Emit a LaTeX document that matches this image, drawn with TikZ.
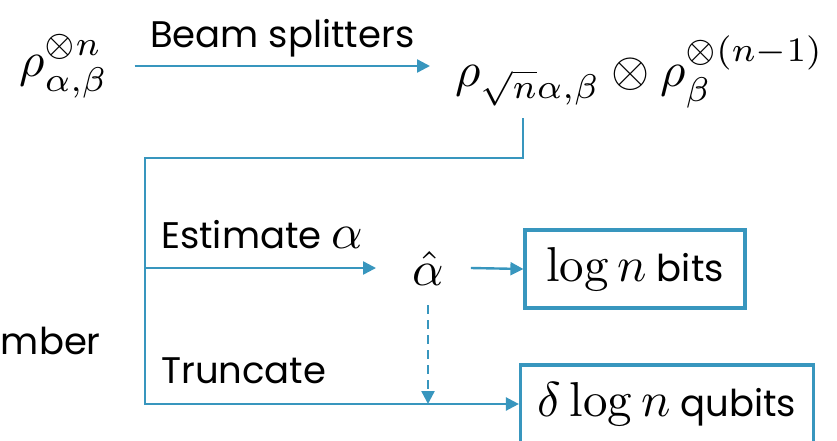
\documentclass[tikz,border=0pt]{standalone}
\usepackage{amsmath,amssymb}
\usepackage{graphicx}
\usepackage[no-math]{fontspec}
\setmainfont{Poppins}
\usetikzlibrary{arrows.meta,calc}
\definecolor{flowblue}{RGB}{56,150,190}
\newcommand{\bigmath}[1]{\scalebox{4.9}{\fontsize{10}{12}\selectfont$#1$}}
\tikzset{
	wire/.style={draw=flowblue,line width=2.4pt},
	flow/.style={wire,-{Triangle[length=13pt,width=13pt]}},
	outbox/.style={draw=flowblue,line width=3.2pt,minimum width=220pt,minimum height=78pt,inner sep=0pt},
	txt/.style={font=\fontsize{37}{44}\selectfont,inner sep=0pt}
}
\begin{document}
\begin{tikzpicture}[x=1pt,y=1pt]
		\useasboundingbox (0,-440) rectangle (837,0);
		\clip (0,-440) rectangle (837,0);
		\node[inner sep=0pt] (rhoin) at (64,-66) {\bigmath{\rho^{\otimes n}_{\alpha,\beta}}}; %input state
		\node[inner sep=0pt,anchor=west] (rhoout) at (455,-72) {\bigmath{\rho_{\sqrt{n}\alpha,\beta}\otimes\rho_{\beta}^{\otimes(n-1)}}}; %after splitting
		\draw[flow] ([xshift=26pt]rhoin.east) -- ([xshift=-25pt]rhoin.east -| rhoout.west)
			node[midway,above=8pt,txt] {Beam splitters};
		\coordinate (drop) at (523,-118);
		\coordinate (fork) at (145,-158);
		\node[inner sep=0pt] (ahat) at (428,-268) {\bigmath{\hat{\alpha}}}; %estimate
		\node[outbox,txt] (bits) at (635,-269) {\bigmath{\log n}\ bits};
		\node[outbox,txt,minimum width=293pt] (qubits) at (667,-404) {\bigmath{\delta\log n}\ qubits};
		\draw[flow] (drop) |- (fork) |- (qubits.west); %truncate branch
		\draw[flow] (fork |- ahat) -- ([xshift=-36pt]ahat.west);
		\draw[flow] ([xshift=27pt]ahat.east) -- (bits.west);
		\draw[flow,dash pattern=on 9pt off 6pt] ([yshift=-20pt]ahat.south) -- (ahat |- qubits.west);
		\node[txt,anchor=base west] (est) at (161,-248) {Estimate \bigmath{\alpha}};
		\node[txt,anchor=base west] (trunc) at (161,-383) {Truncate};
		\node[txt,anchor=base east] (num) at (101,-354) {number};
	\end{tikzpicture}
\end{document}
